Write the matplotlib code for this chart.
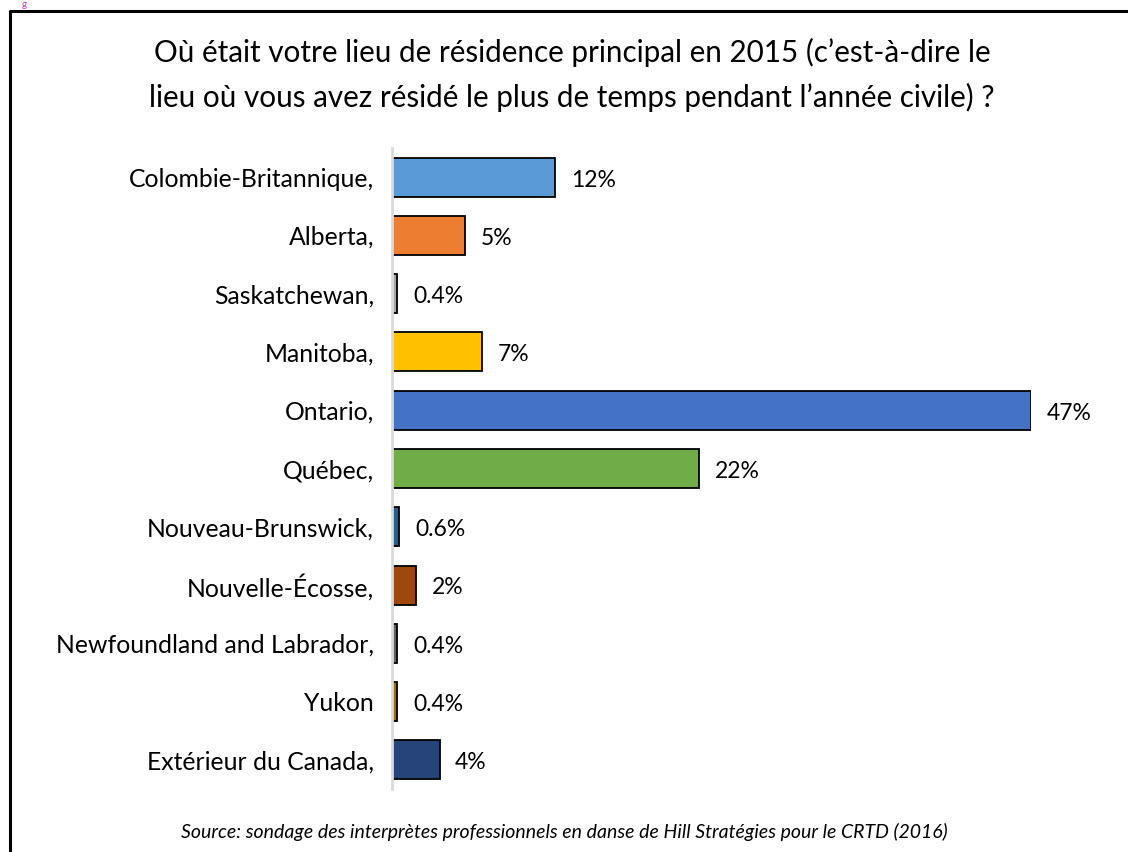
import matplotlib
matplotlib.use("Agg")
import matplotlib.pyplot as plt
from matplotlib.lines import Line2D

categories = ["Colombie-Britannique,", "Alberta,", "Saskatchewan,", "Manitoba,", "Ontario,",
              "Québec,", "Nouveau-Brunswick,", "Nouvelle-Écosse,", "Newfoundland and Labrador,",
              "Yukon", "Extérieur du Canada,"]
values = [12.0, 5.4, 0.4, 6.6, 47.0, 22.6, 0.55, 1.8, 0.4, 0.4, 3.5]
labels = ["12%", "5%", "0.4%", "7%", "47%", "22%", "0.6%", "2%", "0.4%", "0.4%", "4%"]
colors = ["#5B9BD5", "#ED7D31", "#A5A5A5", "#FFC000", "#4472C4", "#70AD47",
          "#255E91", "#9E480E", "#636363", "#997300", "#264478"]

title = ("Où était votre lieu de résidence principal en 2015 (c’est-à-dire le\n"
         "lieu où vous avez résidé le plus de temps pendant l’année civile) ?")
source = "Source: sondage des interprètes professionnels en danse de Hill Stratégies pour le CRTD (2016)"

plt.rcParams['font.family'] = ['Lato', 'DejaVu Sans']

W, H = 1128, 852
fig = plt.figure(figsize=(W / 100, H / 100), dpi=100)
ax = fig.add_axes([392 / W, 1 - 789 / H, (1031 - 392) / W, (789 - 148) / H])

y = list(range(len(categories)))
ax.barh(y, values, height=0.67, color=colors, edgecolor="black", linewidth=1.3)
ax.set_xlim(0, 47)
ax.set_ylim(len(categories) - 0.5, -0.5)
for yi, v, lab in zip(y, values, labels):
    ax.text(v + 1.15, yi + 0.05, lab, va="center", ha="left", fontsize=16.5, clip_on=False)

ax.set_yticks(y)
ax.set_yticklabels(categories, fontsize=17.8)
ax.tick_params(axis="y", length=0, pad=13)
ax.set_xticks([])
for s in ["top", "right", "bottom"]:
    ax.spines[s].set_visible(False)
ax.spines["left"].set_color("#D9D9D9")
ax.spines["left"].set_linewidth(2)

fig.text(572 / W, 1 - 75 / H, title, ha="center", va="center", fontsize=21.3, linespacing=1.68)
fig.text(564 / W, 1 - 832 / H, source, ha="center", va="center", fontsize=14, style="italic")

# outer frame (left and top)
fig.add_artist(Line2D([10 / W, 10 / W, 1.0], [0.0, 1 - 11 / H, 1 - 11 / H],
                      transform=fig.transFigure, color="black", linewidth=2.2))
fig.text(24 / W, 1.0, "g", color="#CC33CC", fontsize=7, ha="center", va="top")

fig.savefig("out.png", dpi=100)
